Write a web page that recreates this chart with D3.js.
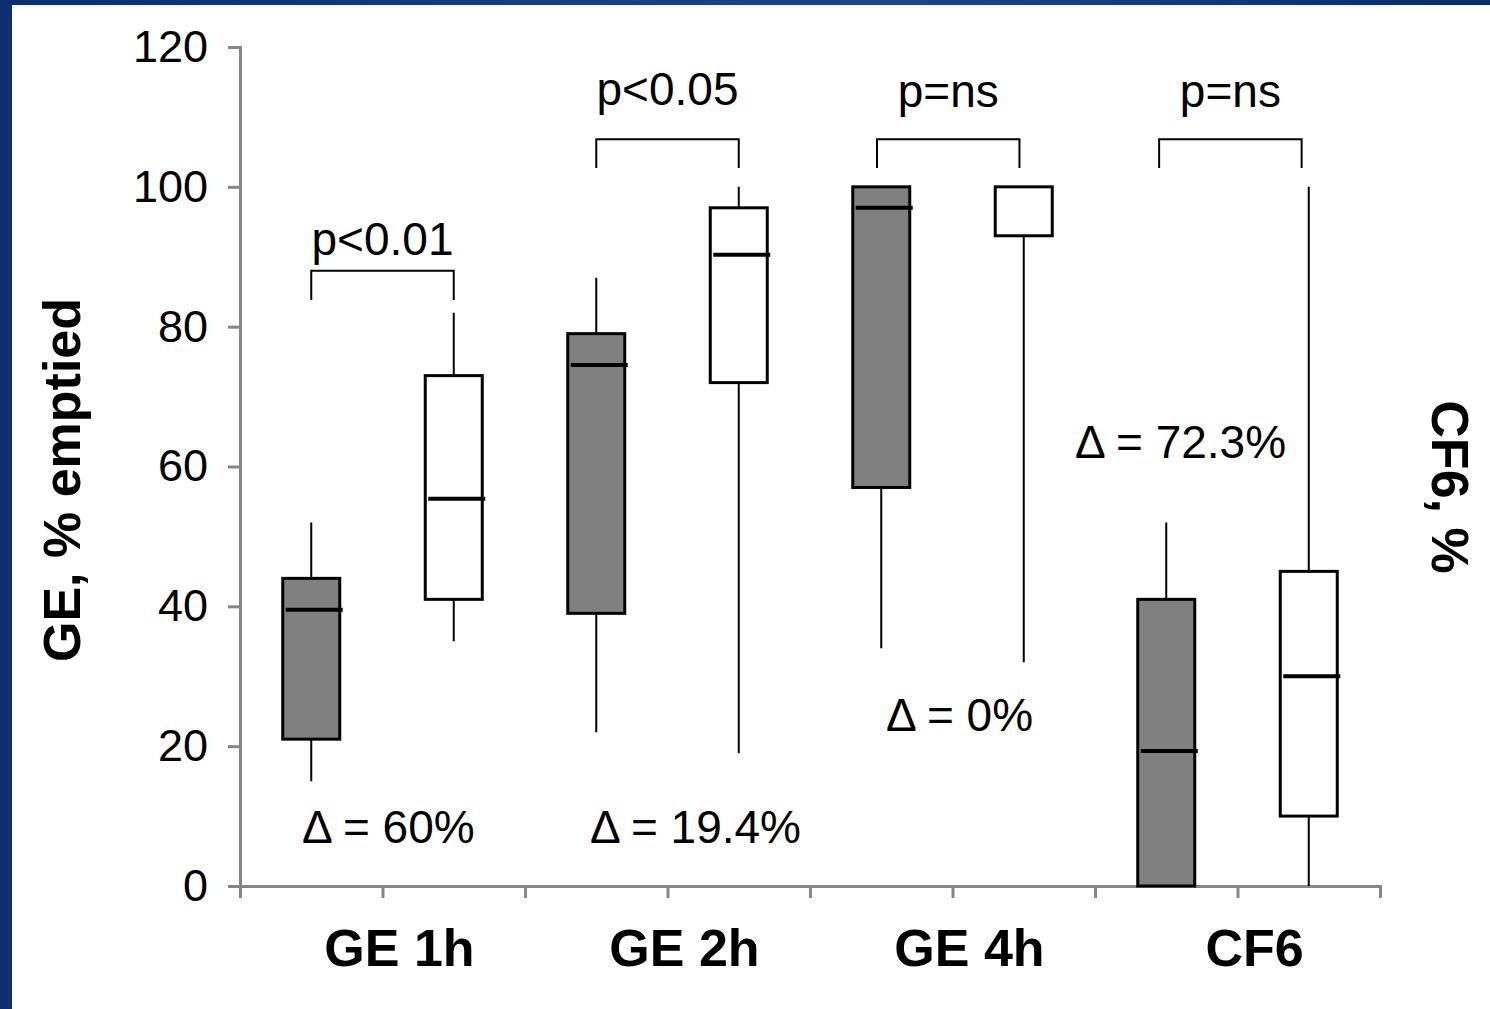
<!DOCTYPE html>
<html>
<head>
<meta charset="utf-8">
<script src="https://cdn.jsdelivr.net/npm/d3@7"></script>
<style>
  html, body { margin: 0; padding: 0; background: #fff; }
  svg { display: block; font-family: "Liberation Sans", Arial, sans-serif; }
</style>
</head>
<body>
<div id="chart"></div>
<script>
// categories and the two boxes in each one (grey = first, white = second)
const categories = ['GE 1h', 'GE 2h', 'GE 4h', 'CF6'];

// box stats: [min, q1, median, q3, max]
const greyBoxes = [
  [15, 21, 39.5, 44, 52],
  [22, 39, 74.5, 79, 87],
  [34, 57, 97, 100, 100],
  [0, 0, 19.3, 41, 52],
];
const whiteBoxes = [
  [35, 41, 55.4, 73, 82],
  [19, 72, 90.3, 97, 100],
  [32, 93, 100, 100, 100],
  [0, 10, 30, 45, 100],
];

// p value labels and bracket levels (in % units)
const pLabels = ['p<0.01', 'p<0.05', 'p=ns', 'p=ns'];
const bracketTop = [88, 106.8, 106.8, 106.8];
const bracketLeg = [83.8, 102.7, 102.7, 102.7];
const pTextLevel = [90.2, 111.7, 111.4, 111.4];
const bracketShift = [0, 0, -0.03, -0.05]; // slot units

// delta labels: text, x in slot units, y in % units
const deltaLabels = ['\u0394 = 60%', '\u0394 = 19.4%', '\u0394 = 0%', '\u0394 = 72.3%'];
const deltaX = [0.435, 2.456, 4.533, 5.86];
const deltaY = [6.2, 6.2, 22.2, 61.2];

const yTicks = [0, 20, 40, 60, 80, 100, 120];

const W = 1490, H = 1009;
const svg = d3.select('#chart').append('svg')
  .attr('width', W).attr('height', H);

// blue frame
const grad = svg.append('defs').append('linearGradient')
  .attr('id', 'frame').attr('x1', '0').attr('x2', '1').attr('y1', '0').attr('y2', '0');
grad.append('stop').attr('offset', '0').attr('stop-color', '#0d2f6f');
grad.append('stop').attr('offset', '0.6').attr('stop-color', '#214488');
grad.append('stop').attr('offset', '1').attr('stop-color', '#0b2b6a');
svg.append('rect').attr('width', W).attr('height', H).attr('fill', 'url(#frame)');
svg.append('rect').attr('x', 12).attr('y', 5).attr('width', W - 12).attr('height', H - 5)
  .attr('fill', '#fff');

// scales: 8 slots, two per category
const x = d3.scaleLinear().domain([0, 8]).range([240, 1380]);
const y = d3.scaleLinear().domain([0, 120]).range([886, 47]);
const slot = x(1) - x(0);
const boxW = slot * 0.4;

// y axis
const yAxis = svg.append('g')
  .attr('transform', `translate(${x(0)},0)`)
  .call(d3.axisLeft(y).tickValues(yTicks).tickSize(12).tickPadding(20));
yAxis.selectAll('text').attr('font-size', 45).attr('fill', '#000')
  .attr('font-family', '"Liberation Sans", Arial, sans-serif');

// x axis (only tick marks)
const xAxis = svg.append('g')
  .attr('transform', `translate(0,${y(0)})`)
  .call(d3.axisBottom(x).tickValues(d3.range(0, 9)).tickSize(12).tickFormat(''));

[yAxis, xAxis].forEach(a => {
  a.select('.domain').attr('stroke', '#868686').attr('stroke-width', 3);
  a.selectAll('.tick line').attr('stroke', '#868686').attr('stroke-width', 3);
});

// boxes
const boxes = [];
categories.forEach((c, i) => {
  boxes.push({ stats: greyBoxes[i], slot: i * 2, fill: '#808080' });
  boxes.push({ stats: whiteBoxes[i], slot: i * 2 + 1, fill: '#ffffff' });
});

const g = svg.append('g').selectAll('g').data(boxes).join('g');
g.append('line')
  .attr('x1', d => x(d.slot + 0.5)).attr('x2', d => x(d.slot + 0.5))
  .attr('y1', d => y(d.stats[0])).attr('y2', d => y(d.stats[4]))
  .attr('stroke', '#000').attr('stroke-width', 2);
g.append('rect')
  .attr('x', d => x(d.slot + 0.5) - boxW / 2)
  .attr('width', boxW)
  .attr('y', d => y(d.stats[3]))
  .attr('height', d => y(d.stats[1]) - y(d.stats[3]))
  .attr('fill', d => d.fill)
  .attr('stroke', '#000').attr('stroke-width', 3);
// median line (hidden when it sits on the box top)
g.filter(d => d.stats[2] < d.stats[3]).append('line')
  .attr('x1', d => x(d.slot + 0.5) - boxW / 2 + 3)
  .attr('x2', d => x(d.slot + 0.5) + boxW / 2 + 3)
  .attr('y1', d => y(d.stats[2])).attr('y2', d => y(d.stats[2]))
  .attr('stroke', '#000').attr('stroke-width', 4);

// brackets and p values
categories.forEach((c, i) => {
  const x0 = x(i * 2 + 0.5 + bracketShift[i]), x1 = x(i * 2 + 1.5 + bracketShift[i]);
  svg.append('path')
    .attr('d', `M${x0},${y(bracketLeg[i])}V${y(bracketTop[i])}H${x1}V${y(bracketLeg[i])}`)
    .attr('fill', 'none').attr('stroke', '#000').attr('stroke-width', 2);
  svg.append('text')
    .attr('x', x(i * 2 + 1 + bracketShift[i])).attr('y', y(pTextLevel[i]))
    .attr('text-anchor', 'middle').attr('font-size', 46)
    .text(pLabels[i]);
});

// delta labels
svg.append('g').selectAll('text').data(deltaLabels).join('text')
  .attr('x', (d, i) => x(deltaX[i]))
  .attr('y', (d, i) => y(deltaY[i]))
  .attr('font-size', 46)
  .text(d => d);

// category labels
svg.append('g').selectAll('text').data(categories).join('text')
  .attr('x', (d, i) => x(i * 2 + 1) + 17)
  .attr('y', 966)
  .attr('text-anchor', 'middle')
  .attr('font-size', 52).attr('font-weight', 'bold')
  .text(d => d);

// axis titles
svg.append('text')
  .attr('transform', `translate(80,480) rotate(-90)`)
  .attr('text-anchor', 'middle')
  .attr('font-size', 52).attr('font-weight', 'bold')
  .text('GE, % emptied');

svg.append('text')
  .attr('transform', `translate(1432,487) rotate(90)`)
  .attr('text-anchor', 'middle')
  .attr('font-size', 52).attr('font-weight', 'bold')
  .text('CF6, %');
</script>
</body>
</html>
